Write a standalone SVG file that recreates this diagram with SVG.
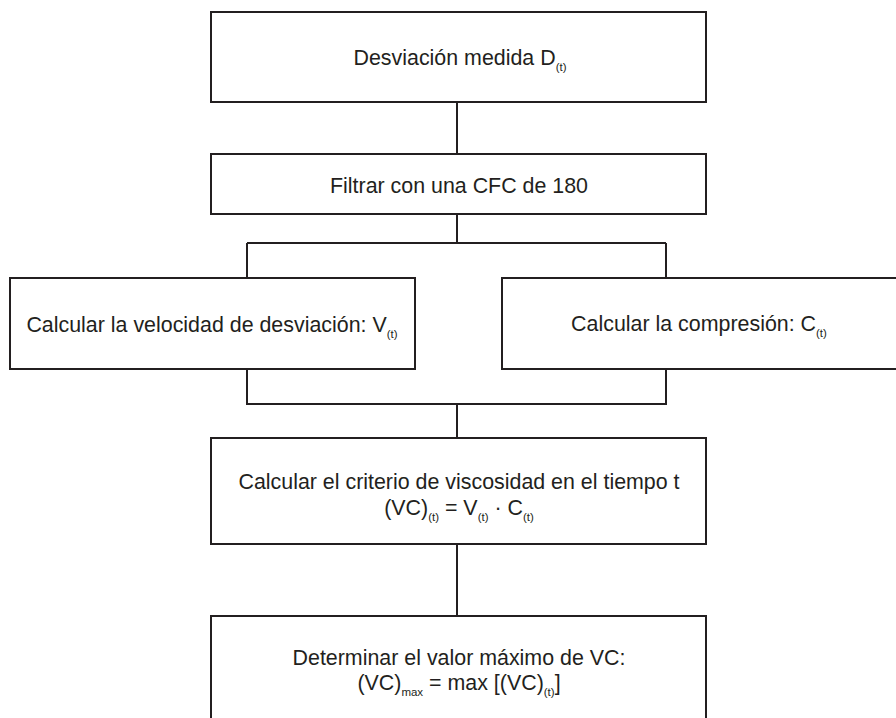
<svg xmlns="http://www.w3.org/2000/svg" width="896" height="718" viewBox="0 0 896 718">
<style>
.box{fill:#fff;stroke:#231f20;stroke-width:2}
.ln{fill:none;stroke:#231f20;stroke-width:2}
text{font-family:"Liberation Sans",Arial,sans-serif;font-size:21.4px;fill:#231f20;text-anchor:middle}
.s{font-size:11.5px}
</style>
<rect width="896" height="718" fill="#fff"/>
<g id="connectors">
<path class="ln" d="M457 102V154"/>
<path class="ln" d="M457 214V243M247 243H666M247 243V278M666 243V278"/>
<path class="ln" d="M247 369V404H666V369M457 404V438"/>
<path class="ln" d="M457 544V616"/>
</g>
<g id="n1"><rect class="box" x="211" y="12" width="495" height="90"/>
<text x="460" y="65">Desviación medida D<tspan class="s" dy="6">(t)</tspan></text></g>
<g id="n2"><rect class="box" x="211" y="154" width="495" height="60"/>
<text x="459" y="193">Filtrar con una CFC de 180</text></g>
<g id="n3"><rect class="box" x="10" y="278" width="405" height="91"/>
<text x="212" y="332">Calcular la velocidad de desviación: V<tspan class="s" dy="6">(t)</tspan></text></g>
<g id="n4"><rect class="box" x="502" y="278" width="400" height="91"/>
<text x="699" y="331">Calcular la compresión: C<tspan class="s" dy="6">(t)</tspan></text></g>
<g id="n5"><rect class="box" x="211" y="438" width="495" height="106"/>
<text x="459" y="489">Calcular el criterio de viscosidad en el tiempo t</text>
<text x="459" y="515">(VC)<tspan class="s" dy="6">(t)</tspan><tspan dy="-6"> = V</tspan><tspan class="s" dy="6">(t)</tspan><tspan dy="-6"> · C</tspan><tspan class="s" dy="6">(t)</tspan></text></g>
<g id="n6"><rect class="box" x="211" y="616" width="495" height="120"/>
<text x="459" y="665">Determinar el valor máximo de VC:</text>
<text x="459" y="690">(VC)<tspan class="s" dy="6">max</tspan><tspan dy="-6"> = max [(VC)</tspan><tspan class="s" dy="6">(t)</tspan><tspan dy="-6">]</tspan></text></g>
</svg>
